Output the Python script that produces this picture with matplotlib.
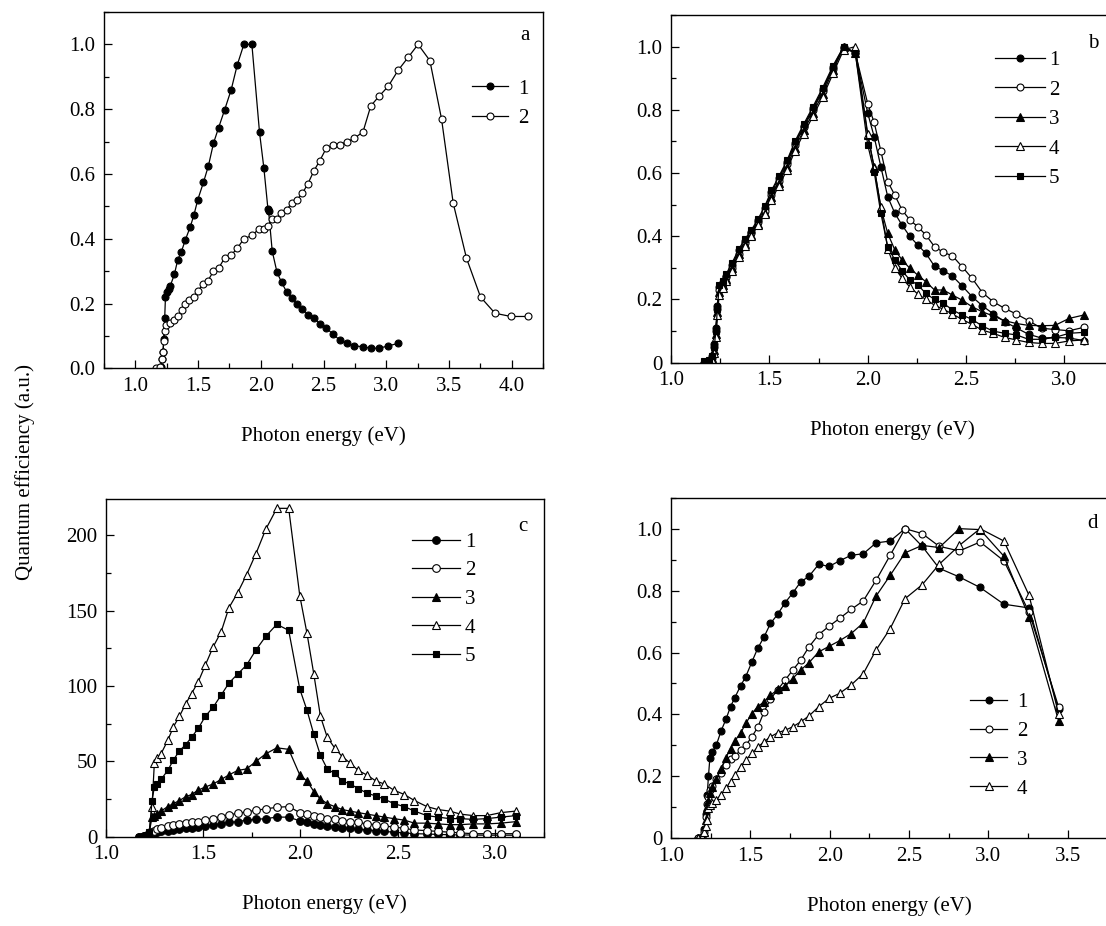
import matplotlib
matplotlib.use('Agg')
import matplotlib.pyplot as plt
from matplotlib.ticker import MultipleLocator, FuncFormatter

plt.rcParams['font.family'] = ['Liberation Serif', 'DejaVu Serif']
plt.rcParams['font.size'] = 15

# ---------------- data ----------------
# panel a
A_X1 = [1.205, 1.213, 1.221, 1.226, 1.234, 1.240, 1.250, 1.266, 1.279, 1.311, 1.338, 1.367, 1.399, 1.437,
        1.466, 1.498, 1.543, 1.583, 1.623, 1.663, 1.711, 1.764, 1.812, 1.865, 1.929, 1.990, 2.025, 2.057,
        2.062, 2.091, 2.129, 2.166, 2.206, 2.248, 2.288, 2.331, 2.376, 2.424, 2.469, 2.523, 2.576, 2.629,
        2.688, 2.746, 2.815, 2.877, 2.943, 3.015, 3.095]
A_Y1 = [0.005, 0.03, 0.05, 0.09, 0.156, 0.22, 0.235, 0.245, 0.255, 0.29, 0.335, 0.36, 0.397, 0.436,
        0.472, 0.521, 0.574, 0.626, 0.695, 0.742, 0.797, 0.86, 0.936, 1.0, 1.0, 0.728, 0.617, 0.492,
        0.487, 0.362, 0.297, 0.265, 0.236, 0.217, 0.198, 0.183, 0.166, 0.156, 0.138, 0.123, 0.106, 0.087,
        0.077, 0.07, 0.066, 0.062, 0.062, 0.069, 0.077]
A_X2 = [1.165, 1.200, 1.213, 1.221, 1.226, 1.234, 1.245, 1.277, 1.311, 1.338, 1.370, 1.399, 1.431, 1.466,
        1.503, 1.538, 1.578, 1.623, 1.665, 1.711, 1.764, 1.812, 1.865, 1.929, 1.985, 2.022, 2.057, 2.091,
        2.129, 2.163, 2.206, 2.248, 2.288, 2.331, 2.376, 2.424, 2.469, 2.523, 2.576, 2.629, 2.688, 2.746,
        2.815, 2.877, 2.943, 3.015, 3.095, 3.175, 3.254, 3.348, 3.441, 3.534, 3.640, 3.752, 3.867, 3.994, 4.128]
A_Y2 = [0.0, 0.005, 0.03, 0.05, 0.085, 0.115, 0.133, 0.14, 0.15, 0.16, 0.18, 0.2, 0.21, 0.22,
        0.24, 0.26, 0.27, 0.3, 0.31, 0.34, 0.35, 0.37, 0.4, 0.41, 0.43, 0.43, 0.44, 0.46,
        0.46, 0.48, 0.49, 0.51, 0.52, 0.54, 0.57, 0.61, 0.64, 0.68, 0.69, 0.69, 0.70, 0.71,
        0.73, 0.81, 0.84, 0.87, 0.92, 0.96, 1.0, 0.95, 0.77, 0.51, 0.34, 0.22, 0.17, 0.16, 0.16]

# panel b
XB = [1.170, 1.195, 1.210, 1.220, 1.228, 1.236, 1.245, 1.262, 1.280, 1.310, 1.345, 1.375, 1.409, 1.443,
      1.477, 1.511, 1.549, 1.590, 1.630, 1.675, 1.722, 1.771, 1.824, 1.878, 1.937, 2.000, 2.033, 2.067,
      2.102, 2.138, 2.175, 2.214, 2.255, 2.296, 2.340, 2.385, 2.431, 2.480, 2.531, 2.583, 2.638, 2.696,
      2.756, 2.818, 2.884, 2.952, 3.024, 3.100]
B1 = [0.0, 0.005, 0.02, 0.06, 0.11, 0.18, 0.24, 0.255, 0.275, 0.31, 0.355, 0.385, 0.415, 0.45,
      0.49, 0.54, 0.585, 0.635, 0.695, 0.75, 0.805, 0.865, 0.935, 1.0,
      0.98, 0.79, 0.715, 0.62, 0.525, 0.473, 0.435, 0.40, 0.372, 0.346, 0.305, 0.291,
      0.274, 0.243, 0.209, 0.18, 0.155, 0.13, 0.11, 0.09, 0.078, 0.08, 0.078, 0.07]
B2 = [0.0, 0.005, 0.015, 0.05, 0.10, 0.17, 0.23, 0.25, 0.27, 0.30, 0.345, 0.38, 0.41, 0.445,
      0.48, 0.53, 0.575, 0.63, 0.69, 0.745, 0.80, 0.86, 0.93, 0.995,
      0.98, 0.82, 0.76, 0.67, 0.573, 0.53, 0.483, 0.452, 0.43, 0.404, 0.367, 0.349,
      0.338, 0.304, 0.267, 0.222, 0.193, 0.172, 0.154, 0.133, 0.109, 0.105, 0.101, 0.112]
B3 = [0.0, 0.005, 0.015, 0.04, 0.09, 0.16, 0.225, 0.245, 0.265, 0.30, 0.345, 0.375, 0.405, 0.44,
      0.475, 0.525, 0.57, 0.62, 0.68, 0.735, 0.79, 0.85, 0.925, 1.0,
      0.98, 0.72, 0.62, 0.49, 0.409, 0.357, 0.325, 0.299, 0.277, 0.256, 0.230, 0.23,
      0.214, 0.198, 0.177, 0.161, 0.148, 0.133, 0.124, 0.118, 0.117, 0.118, 0.14, 0.151]
B4 = [0.0, 0.003, 0.01, 0.03, 0.08, 0.15, 0.215, 0.235, 0.26, 0.29, 0.335, 0.37, 0.40, 0.435,
      0.47, 0.515, 0.56, 0.61, 0.67, 0.725, 0.78, 0.84, 0.915, 0.99,
      1.0, 0.725, 0.615, 0.494, 0.36, 0.30, 0.267, 0.24, 0.217, 0.20, 0.182, 0.169,
      0.154, 0.137, 0.121, 0.103, 0.093, 0.08, 0.072, 0.064, 0.061, 0.061, 0.069, 0.072]
B5 = [0.005, 0.01, 0.02, 0.05, 0.10, 0.17, 0.245, 0.26, 0.28, 0.315, 0.36, 0.39, 0.42, 0.455,
      0.495, 0.545, 0.59, 0.64, 0.70, 0.755, 0.81, 0.87, 0.94, 1.0,
      0.98, 0.69, 0.604, 0.473, 0.367, 0.325, 0.291, 0.262, 0.246, 0.219, 0.20, 0.188,
      0.167, 0.151, 0.137, 0.116, 0.10, 0.093, 0.088, 0.074, 0.074, 0.08, 0.093, 0.096]

# panel c
XC = [1.172, 1.195, 1.210, 1.224, 1.238, 1.250, 1.262, 1.284, 1.319, 1.348, 1.379, 1.410, 1.441, 1.476,
      1.512, 1.552, 1.593, 1.633, 1.678, 1.724, 1.772, 1.822, 1.879, 1.940, 1.997, 2.034, 2.069, 2.103,
      2.138, 2.176, 2.216, 2.255, 2.297, 2.341, 2.388, 2.431, 2.479, 2.534, 2.586, 2.650, 2.707, 2.767,
      2.822, 2.888, 2.957, 3.031, 3.107]
C1 = [0, 0.2, 0.5, 1, 1.5, 2, 3, 3.5, 4, 4.5, 5, 5.5, 6, 6.5, 7, 8, 8.5, 9.5, 10, 11, 11.5, 12, 13, 13,
      10.5, 9.5, 8.5, 7.5, 7, 6.5, 6, 5.5, 5, 4.5, 4, 3.5, 3, 2.5, 2, 1.8, 1.5, 1.3, 1.2, 1.1, 1, 1, 1]
C2 = [0, 0.3, 0.8, 1.5, 3, 4, 5, 6, 7, 8, 8.5, 9, 9.5, 10, 11, 12, 13, 14.5, 15.5, 16.5, 17.5, 18.5, 19.5, 20,
      16, 15, 14, 13, 12, 11.5, 10.5, 10, 9.5, 8.5, 8, 7, 6.5, 5.5, 4.5, 4, 3.5, 3, 2.5, 2, 2, 2, 2]
C3 = [0, 0.3, 1, 3, 13, 14, 15, 17, 20, 22, 24, 26.5, 28, 31, 33, 35, 38, 41, 44, 45, 50, 55, 59, 58,
      41, 37, 30, 25, 22, 20, 18, 17, 16, 15, 14, 13, 12, 11, 9, 9, 8.5, 8, 8, 8.5, 8.5, 9, 10]
C4 = [0, 0.5, 1.5, 3, 20, 49, 52, 55, 64, 73, 80, 88, 95, 103, 114, 126, 136, 152, 162, 174, 188, 204, 218, 218,
      160, 135, 108, 80, 66, 59, 53, 49, 44, 41, 37, 35, 31, 28, 24, 20, 18, 17, 15, 14, 14, 16, 17]
C5 = [0, 0.5, 1, 3, 24, 33, 35, 38, 44, 51, 57, 61, 66, 72, 80, 86, 94, 102, 108, 114, 124, 133, 141, 137,
      98, 84, 68, 54, 45, 42, 37, 35, 32, 29, 27, 25, 22, 20, 17, 14, 13, 12, 12, 11.5, 12, 13, 14]

# panel d
XD = [1.170, 1.195, 1.210, 1.220, 1.228, 1.236, 1.245, 1.260, 1.285, 1.315, 1.346, 1.375, 1.402, 1.438,
      1.471, 1.510, 1.546, 1.587, 1.627, 1.673, 1.719, 1.767, 1.817, 1.869, 1.931, 1.996, 2.062, 2.135,
      2.212, 2.292, 2.381, 2.475, 2.583, 2.690, 2.817, 2.948, 3.098, 3.256, 3.442]
D1 = [0, 0.003, 0.03, 0.08, 0.14, 0.20, 0.26, 0.28, 0.30, 0.346, 0.384, 0.425, 0.454, 0.492, 0.522, 0.57,
      0.613, 0.651, 0.694, 0.724, 0.761, 0.792, 0.828, 0.846, 0.885, 0.878, 0.896, 0.914, 0.919, 0.954,
      0.96, 1.0, 0.943, 0.872, 0.844, 0.81, 0.756, 0.744, 0.416]
D2 = [0, 0.002, 0.02, 0.07, 0.11, 0.134, 0.156, 0.17, 0.19, 0.21, 0.237, 0.255, 0.265, 0.285, 0.30, 0.328,
      0.358, 0.409, 0.45, 0.48, 0.511, 0.543, 0.575, 0.618, 0.658, 0.685, 0.71, 0.739, 0.767, 0.833,
      0.914, 1.0, 0.984, 0.943, 0.928, 0.957, 0.896, 0.731, 0.425]
D3 = [0, 0.002, 0.02, 0.06, 0.10, 0.122, 0.145, 0.165, 0.19, 0.225, 0.26, 0.29, 0.315, 0.339, 0.371, 0.403,
      0.425, 0.441, 0.462, 0.481, 0.491, 0.516, 0.543, 0.567, 0.602, 0.62, 0.638, 0.661, 0.696, 0.782,
      0.849, 0.922, 0.946, 0.939, 1.0, 0.997, 0.911, 0.715, 0.38]
D4 = [0, 0.005, 0.02, 0.04, 0.06, 0.097, 0.108, 0.115, 0.124, 0.14, 0.161, 0.183, 0.204, 0.231, 0.253, 0.274,
      0.294, 0.312, 0.328, 0.341, 0.349, 0.36, 0.376, 0.395, 0.425, 0.452, 0.468, 0.495, 0.532, 0.608,
      0.677, 0.774, 0.819, 0.885, 0.946, 1.0, 0.96, 0.785, 0.403]

LABELS = ['1', '2', '3', '4', '5']
XLABEL = 'Photon energy (eV)'
YLABEL = 'Quantum efficiency (a.u.)'

# ---------------- styles ----------------
STY = {
    '1': dict(marker='o', mfc='black'),
    '2': dict(marker='o', mfc='white'),
    '3': dict(marker='^', mfc='black'),
    '4': dict(marker='^', mfc='white'),
    '5': dict(marker='s', mfc='black'),
}

W, H = 1106, 926
fig = plt.figure(figsize=(W / 100, H / 100), dpi=100)


def add_ax(l, t, r, b):
    return fig.add_axes([l / W, 1 - b / H, (r - l) / W, (b - t) / H])


def style_ax(ax, xmaj, xmin, ymaj, ymin, yfmt):
    ax.xaxis.set_major_locator(MultipleLocator(xmaj))
    ax.xaxis.set_minor_locator(MultipleLocator(xmin))
    ax.yaxis.set_major_locator(MultipleLocator(ymaj))
    ax.yaxis.set_minor_locator(MultipleLocator(ymin))
    ax.xaxis.set_major_formatter(FuncFormatter(lambda v, p: '%.1f' % v))
    ax.yaxis.set_major_formatter(FuncFormatter(yfmt))
    ax.tick_params(which='both', direction='in', top=False, right=False, width=0.9,
                   labelsize=15, pad=6, colors='black')
    ax.tick_params(which='major', length=6)
    ax.tick_params(which='minor', length=3.5)
    for s in ax.spines.values():
        s.set_linewidth(1.0)
    ax.set_xlabel(XLABEL, fontsize=15, labelpad=22)


def plot_series(ax, x, y, key, ms):
    st = STY[key]
    mk = st['marker']
    size = ms * (1.15 if mk == '^' else (0.85 if mk == 's' else 1.0))
    ax.plot(x, y, color='black', lw=0.9, marker=mk, ms=size, mfc=st['mfc'],
            mec='black', mew=0.8, label=key)


def add_legend(ax, anchor, hl, htp, ls):
    ax.legend(loc='upper left', bbox_to_anchor=anchor, frameon=False, borderpad=0,
              borderaxespad=0, handlelength=hl, handletextpad=htp, labelspacing=ls, fontsize=15)


fmt_a = lambda v, p: '%.1f' % v
fmt_bd = lambda v, p: '0' if abs(v) < 1e-9 else '%.1f' % v
fmt_c = lambda v, p: '%d' % round(v)

# panel a
axa = add_ax(104, 12, 543, 368.3)
plot_series(axa, A_X1, A_Y1, '1', 5)
plot_series(axa, A_X2, A_Y2, '2', 5)
axa.set_xlim(0.75, 4.25)
axa.set_ylim(0, 1.1)
style_ax(axa, 0.5, 0.25, 0.2, 0.1, fmt_a)
add_legend(axa, (0.8376, 0.812), 1.75, 0.5, 0.49)
axa.text(0.959, 0.935, 'a', transform=axa.transAxes, ha='center', va='center', fontsize=15)

# panel b
axb = add_ax(671, 15, 1113.5, 362.7)
for key, ys in zip(LABELS, [B1, B2, B3, B4, B5]):
    plot_series(axb, XB, ys, key, 5)
axb.set_xlim(1.0, 3.25)
axb.set_ylim(0, 1.1)
style_ax(axb, 0.5, 0.25, 0.2, 0.1, fmt_bd)
add_legend(axb, (0.732, 0.8976), 2.4, 0.2, 0.475)
axb.text(0.954, 0.919, 'b', transform=axb.transAxes, ha='center', va='center', fontsize=15)

# panel c
axc = add_ax(105.7, 499.3, 543.7, 836.7)
for key, ys in zip(LABELS, [C1, C2, C3, C4, C5]):
    plot_series(axc, XC, ys, key, 5.5)
axc.set_xlim(1.0, 3.25)
axc.set_ylim(0, 224)
style_ax(axc, 0.5, 0.25, 50, 25, fmt_c)
add_legend(axc, (0.699, 0.902), 2.3, 0.25, 0.43)
axc.text(0.953, 0.919, 'c', transform=axc.transAxes, ha='center', va='center', fontsize=15)

# panel d
axd = add_ax(671, 497.7, 1107.4, 838.3)
for key, ys in zip(LABELS[:4], [D1, D2, D3, D4]):
    plot_series(axd, XD, ys, key, 5)
axd.set_xlim(1.0, 3.75)
axd.set_ylim(0, 1.1)
style_ax(axd, 0.5, 0.25, 0.2, 0.1, fmt_bd)
add_legend(axd, (0.685, 0.4287), 1.8, 0.45, 0.45)
axd.text(0.967, 0.925, 'd', transform=axd.transAxes, ha='center', va='center', fontsize=15)

fig.text(25 / W, 1 - 472 / H, YLABEL, rotation=90, ha='center', va='center', fontsize=15)

fig.savefig('out.png', dpi=100, facecolor='white')
